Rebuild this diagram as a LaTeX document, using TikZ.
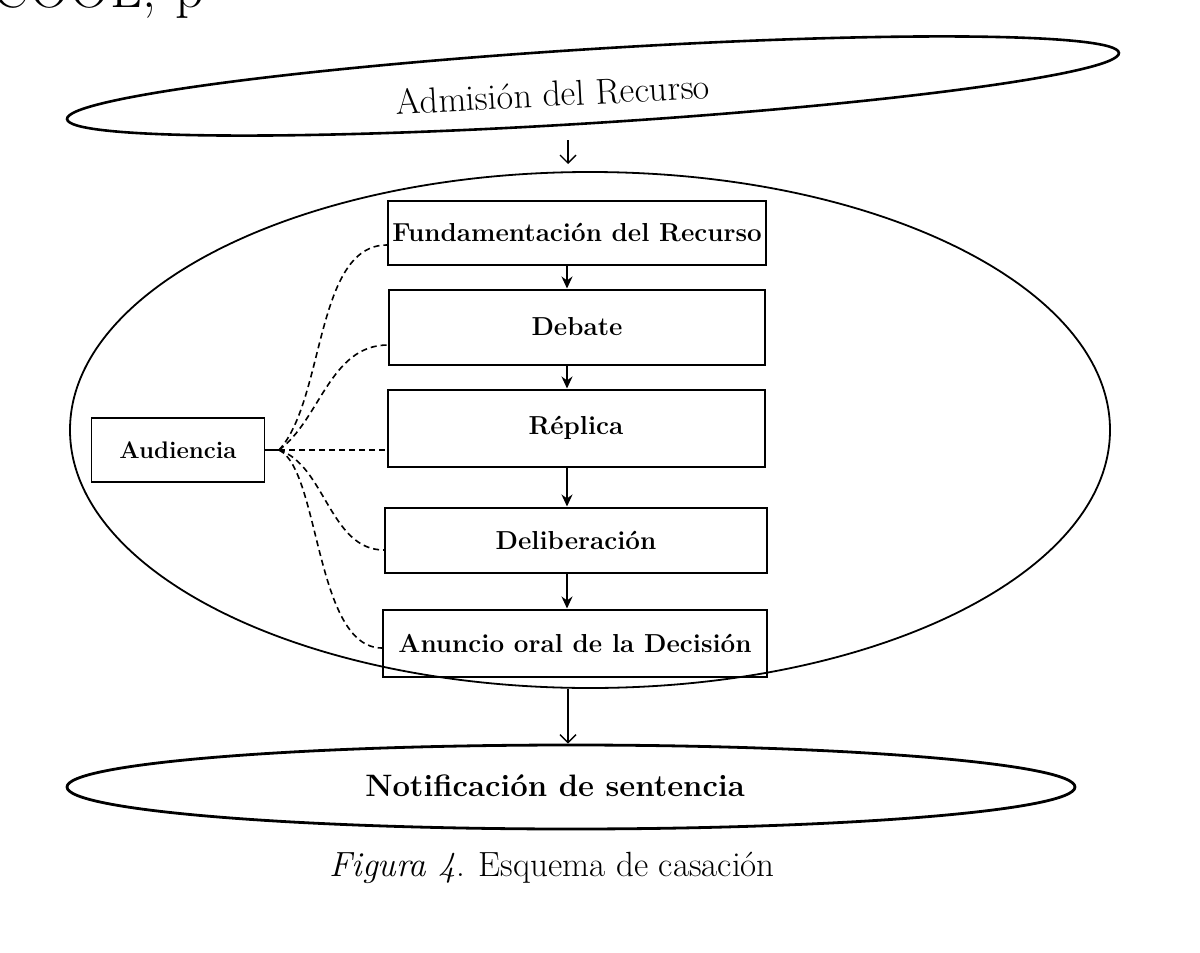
\documentclass[tikz,border=0pt]{standalone}
\usetikzlibrary{arrows.meta,shapes.geometric,calc}
\begin{document}
\begin{tikzpicture}[x=1pt,y=-1pt,
  stepbox/.style={draw, line width=2pt, inner sep=0pt, font=\bfseries\fontsize{26}{30}\selectfont},
  oval/.style={draw, ellipse, inner sep=0pt},
  flow/.style={line width=1.6pt, -{Stealth[length=12pt,width=11pt]}},
  open/.style={line width=1.4pt, -{Straight Barb[length=8pt,width=16pt]}},
  link/.style={line width=1.6pt, dash pattern=on 6pt off 4pt}]
\useasboundingbox (0,0) rectangle (1200,953);
% partial line of page text at the top
\node[anchor=base west, inner sep=0pt, font=\fontsize{56}{60}\selectfont] (pagetext) at (-8,8) {COOL,\,\,p};
% ovals
\node[oval, line width=2.6pt, minimum width=1054, minimum height=74, rotate=3.6] (adm) at (593,86) {};
\node[font=\fontsize{36}{40}\selectfont, rotate=3] (admt) at (553,94) {Admisión del Recurso};
\node[oval, line width=1.8pt, minimum width=1040, minimum height=516] (big) at (590,430) {};
\node[oval, line width=2.8pt, minimum width=1008, minimum height=84] (not) at (571,787) {};
\node[font=\bfseries\fontsize{31}{34}\selectfont] (nott) at (555,786) {Notificación de sentencia};
% steps
\node[stepbox, minimum width=378, minimum height=64] (F) at (577,233) {Fundamentación del Recurso};
\node[stepbox, minimum width=376, minimum height=75] (D) at (577,327) {Debate};
\node[stepbox, minimum width=377, minimum height=77] (R) at (576,428) {Réplica};
\node[stepbox, minimum width=382, minimum height=65] (L) at (576,540) {Deliberación};
\node[stepbox, minimum width=384, minimum height=67] (A) at (575,643) {Anuncio oral de la Decisión};
\node[stepbox, line width=1.8pt, font=\bfseries\fontsize{24}{28}\selectfont, minimum width=173, minimum height=64] (aud) at (178,450) {Audiencia};
% flow arrows
\coordinate (ax) at (567,0);
\draw[flow] (F.south -| ax) -- (D.north -| ax);
\draw[flow] (D.south -| ax) -- (R.north -| ax);
\draw[flow] (R.south -| ax) -- (L.north -| ax);
\draw[flow] (L.south -| ax) -- (A.north -| ax);
\coordinate (t1) at (568,140);
\coordinate (t2) at (568,164);
\draw[open] (t1) -- (t2);
\draw[open] (big.south -| t1) -- (not.north -| t1);
% audiencia links
\coordinate (J) at (279,450);
\draw[line width=1.6pt] (aud.east) -- (J);
\draw[link] (J) .. controls (325,400) and (315,245) .. ($(F.west)+(0,12)$);
\draw[link] (J) .. controls (320,420) and (330,345) .. ($(D.west)+(0,18)$);
\draw[link] (J) -- (R.west |- J);
\draw[link] (J) .. controls (325,465) and (330,550) .. ($(L.west)+(0,10)$);
\draw[link] (J) .. controls (320,470) and (315,648) .. ($(A.west)+(0,5)$);
% caption
\node[font=\fontsize{35}{40}\selectfont] (cap) at (552,868) {\textit{Figura 4}. Esquema de casación};
\end{tikzpicture}
\end{document}
